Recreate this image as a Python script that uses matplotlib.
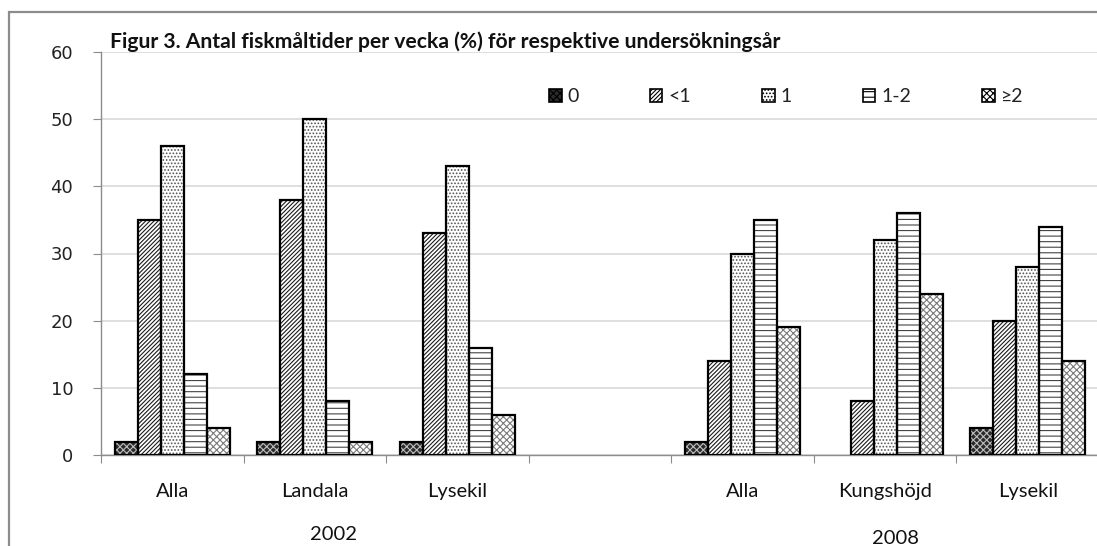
import matplotlib
matplotlib.use("Agg")
import matplotlib.pyplot as plt
from matplotlib.patches import Patch, Rectangle
from matplotlib.transforms import blended_transform_factory
import numpy as np

# ---------------- data ----------------
categories = ["Alla", "Landala", "Lysekil", "", "Alla", "Kungshöjd", "Lysekil"]
series_names = ["0", "<1", "1", "1-2", "\u22652"]
v_0 = [2, 2, 2, 0, 2, 0, 4]
v_lt1 = [35, 38, 33, 0, 14, 8, 20]
v_1 = [46, 50, 43, 0, 30, 32, 28]
v_1_2 = [12, 8, 16, 0, 35, 36, 34]
v_ge2 = [4, 2, 6, 0, 19, 24, 14]
series_values = [v_0, v_lt1, v_1, v_1_2, v_ge2]
group_labels = ["2002", "2008"]
group_pos = [1.13, 5.07]
y_ticks = [0, 10, 20, 30, 40, 50, 60]
title = "Figur 3. Antal fiskmåltider per vecka (%) för respektive undersökningsår"

# ---------------- styles ----------------
styles = [
    dict(face="#2a2a2a", hcol="#bdbdbd", hatch="xxxxx"),
    dict(face="white", hcol="#1a1a1a", hatch="////////"),
    dict(face="white", hcol="#555555", hatch="....."),
    dict(face="white", hcol="#444444", hatch="---"),
    dict(face="white", hcol="#7a7a7a", hatch="xxxxx"),
]

plt.rcParams["hatch.linewidth"] = 0.8
W, H = 1097, 546
fig = plt.figure(figsize=(W / 100, H / 100), dpi=100)
ax = fig.add_axes([101 / W, 1 - 455 / H, 998 / W, (455 - 52) / H])

n = len(series_values)
gap = 1.2
bw = 1.0 / (n + gap)
x = np.arange(len(categories))
for i, (vals, st) in enumerate(zip(series_values, styles)):
    xs = x + (i - (n - 1) / 2) * bw
    vals = np.asarray(vals, dtype=float)
    mask = vals > 0
    ax.bar(xs[mask], vals[mask], width=bw, color=st["face"], edgecolor=st["hcol"],
           hatch=st["hatch"], linewidth=0, zorder=3)
    ax.bar(xs[mask], vals[mask], width=bw, fill=False, edgecolor="black",
           linewidth=1.6, zorder=4)

ax.set_xlim(-0.5, len(categories) - 0.5)
ax.set_ylim(0, 60)
ax.set_yticks(y_ticks)
ax.set_yticklabels([str(t) for t in y_ticks], fontsize=13, family="DejaVu Sans", color="#222222")
ax.yaxis.grid(True, color="#d9d9d9", linewidth=1.2, zorder=0)
ax.set_axisbelow(True)

for s in ["top", "right"]:
    ax.spines[s].set_visible(False)
for s in ["left", "bottom"]:
    ax.spines[s].set_color("#8c8c8c")
    ax.spines[s].set_linewidth(1.0)

ax.tick_params(axis="y", length=6, color="#8c8c8c", pad=14)
ax.set_xticks(np.arange(-0.5, len(categories)), minor=False)
ax.set_xticklabels([])
ax.tick_params(axis="x", which="major", length=6, color="#8c8c8c")
ax.set_xticks(x, minor=True)
ax.set_xticklabels(categories, minor=True, fontsize=14.5, family="Lato", color="#111111")
ax.tick_params(axis="x", which="minor", length=0, pad=20)

trans = blended_transform_factory(ax.transData, fig.transFigure)
for lbl, gx, gy in zip(group_labels, group_pos, [1 - 535 / H, 1 - 538 / H]):
    ax.text(gx, gy, lbl, transform=trans, ha="center", va="center",
            fontsize=14.5, family="Lato", color="#111111")

fig.text(110 / W, 1 - 42 / H, title, ha="left", va="center", fontsize=15.2,
         fontweight="bold", family="Lato", color="#111111")

handles = [Patch(facecolor=st["face"], edgecolor="black", hatch=st["hatch"], linewidth=1.2)
           for st in styles]
leg = fig.legend(handles, series_names, loc="center left",
                 bbox_to_anchor=(549 / W, 1 - 97 / H), ncol=5, frameon=False,
                 fontsize=14, handlelength=0.65, handleheight=0.65,
                 handletextpad=0.3, columnspacing=3.65, borderpad=0, borderaxespad=0)
for t in leg.get_texts():
    t.set_family("Lato")
    t.set_color("#222222")

fig.patches.append(Rectangle((9 / W, -0.1), 1.2, 1.1 - 12 / H, transform=fig.transFigure,
                             fill=False, edgecolor="#8c8c8c", linewidth=1.6))

fig.savefig("out.png", dpi=100, facecolor="white")
